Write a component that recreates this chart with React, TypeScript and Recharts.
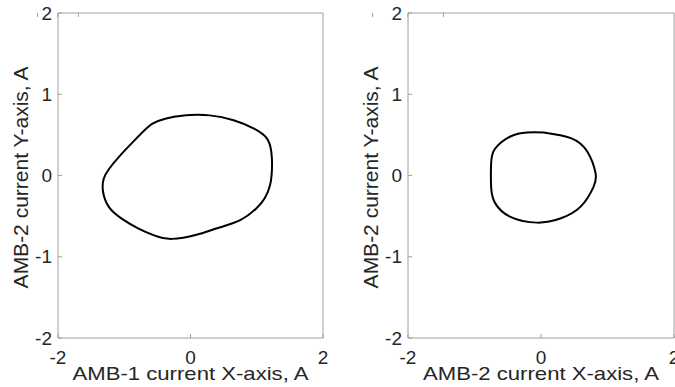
import React from "react"
import { LineChart, Line, XAxis, YAxis, Label } from "recharts"

// closed current orbits, traced clockwise from the top of each loop
const amb1X = [0.0, 0.29, 0.65, 0.95, 1.15, 1.22, 1.23, 1.2, 1.12, 1.0, 0.75, 0.4, 0.09, -0.28, -0.54, -0.79, -1.04, -1.23, -1.32, -1.31, -1.23, -1.08, -0.86, -0.65, -0.49, -0.23, 0.0]
const amb1Y = [0.745, 0.74, 0.68, 0.58, 0.46, 0.29, 0.09, -0.12, -0.28, -0.4, -0.55, -0.65, -0.73, -0.78, -0.74, -0.65, -0.53, -0.39, -0.2, -0.04, 0.08, 0.23, 0.42, 0.59, 0.67, 0.725, 0.745]

const amb2X = [0.04, 0.45, 0.7, 0.82, 0.79, 0.6, 0.29, -0.06, -0.46, -0.69, -0.75, -0.75, -0.69, -0.46, -0.21, 0.04]
const amb2Y = [0.53, 0.46, 0.29, 0.03, -0.14, -0.38, -0.53, -0.58, -0.51, -0.34, -0.14, 0.15, 0.33, 0.48, 0.53, 0.53]

const xTicks = [-2, 0, 2]
const yTicks = [-2, -1, 0, 1, 2]

const FONT = "'Liberation Sans', Arial, sans-serif"
const TEXT = "#262626"
const BOX = "#a0a0a0"

interface PanelProps {
  xs: number[]
  ys: number[]
  xLabel: string
  yLabel: string
  left: number
  width: number
  yAxisWidth: number
  marginRight: number
}

function Panel({ xs, ys, xLabel, yLabel, left, width, yAxisWidth, marginRight }: PanelProps) {
  const data = xs.map((x, i) => ({ x, y: ys[i] }))
  const tickStyle = { fill: TEXT, fontSize: 19, fontFamily: FONT }

  return (
    <div style={{ position: "absolute", left, top: 0 }}>
      <LineChart width={width} height={387} data={data} margin={{ top: 12, right: marginRight, bottom: 0, left: 0 }}>
        <XAxis
          dataKey="x"
          type="number"
          domain={[-2, 2]}
          ticks={xTicks}
          allowDataOverflow
          height={49}
          stroke={BOX}
          tickSize={-4}
          tickMargin={17}
          tick={tickStyle}
          interval={0}
        >
          <Label
            content={({ viewBox }: any) => (
              <text
                x={viewBox.x + viewBox.width / 2}
                y={viewBox.y + 42}
                textAnchor="middle"
                fill={TEXT}
                fontSize={19}
                fontFamily={FONT}
                textLength={236}
                lengthAdjust="spacingAndGlyphs"
              >
                {xLabel}
              </text>
            )}
          />
        </XAxis>
        {/* box: top and right edges carry inward ticks only */}
        <XAxis
          xAxisId="top"
          orientation="top"
          type="number"
          domain={[-2, 2]}
          ticks={xTicks}
          height={1}
          stroke={BOX}
          tickSize={-4}
          tick={() => <g />}
          interval={0}
        />
        <YAxis
          type="number"
          domain={[-2, 2]}
          ticks={yTicks}
          allowDataOverflow
          width={yAxisWidth}
          stroke={BOX}
          tickSize={-4}
          tickMargin={10}
          tick={tickStyle}
          interval={0}
        >
          <Label
            content={({ viewBox }: any) => {
              const cx = viewBox.x + viewBox.width - 38
              const cy = viewBox.y + viewBox.height / 2 + 2
              return (
                <text
                  x={cx}
                  y={cy}
                  transform={`rotate(-90 ${cx} ${cy})`}
                  textAnchor="middle"
                  dominantBaseline="central"
                  fill={TEXT}
                  fontSize={21}
                  fontFamily={FONT}
                >
                  {yLabel}
                </text>
              )
            }}
          />
        </YAxis>
        <YAxis
          yAxisId="right"
          orientation="right"
          type="number"
          domain={[-2, 2]}
          ticks={yTicks}
          width={1}
          stroke={BOX}
          tickSize={-4}
          tick={() => <g />}
          interval={0}
        />
        <Line
          dataKey="y"
          type="natural"
          stroke="#000"
          strokeWidth={2}
          dot={false}
          activeDot={false}
          isAnimationActive={false}
        />
      </LineChart>
    </div>
  )
}

export default function App() {
  return (
    <div style={{ position: "absolute", left: 0, top: 0, width: 675, height: 387, overflow: "hidden", background: "#fff" }}>
      <Panel
        xs={amb1X}
        ys={amb1Y}
        xLabel="AMB-1 current X-axis, A"
        yLabel="AMB-2 current Y-axis, A"
        left={0}
        width={340}
        yAxisWidth={58}
        marginRight={16}
      />
      <Panel
        xs={amb2X}
        ys={amb2Y}
        xLabel="AMB-2 current X-axis, A"
        yLabel="AMB-2 current Y-axis, A"
        left={340}
        width={335}
        yAxisWidth={68}
        marginRight={0}
      />
    </div>
  )
}
